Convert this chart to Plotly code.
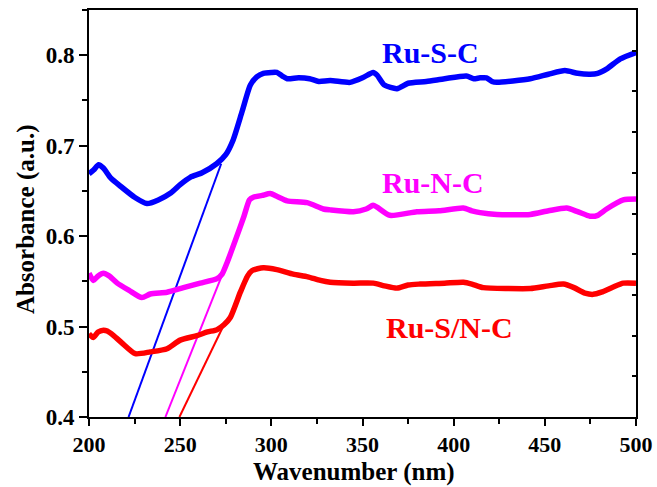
import plotly.graph_objects as go

# Ru-S-C (blue)
x_sc = [200, 202.5, 205.3, 208, 212, 218, 225, 231.8, 238, 245, 250, 255.5, 262, 270, 275, 279, 284, 288.5,
        292, 295.6, 300, 303, 306, 308.7, 315, 321, 326, 332.3, 343.2, 350, 355.8, 358, 362, 368.9, 375, 385,
        395, 407, 411, 414.5, 418, 421, 423.7, 442, 452, 461, 468, 474.8, 479, 484, 491.4, 500]
y_sc = [0.669, 0.673, 0.679, 0.675, 0.664, 0.654, 0.643, 0.636, 0.640, 0.648, 0.657, 0.665, 0.670, 0.680,
        0.690, 0.706, 0.738, 0.767, 0.776, 0.780, 0.781, 0.781, 0.777, 0.774, 0.775, 0.774, 0.771, 0.772,
        0.770, 0.775, 0.781, 0.778, 0.767, 0.763, 0.769, 0.771, 0.774, 0.777, 0.774, 0.775, 0.775, 0.771,
        0.770, 0.774, 0.779, 0.783, 0.780, 0.779, 0.780, 0.785, 0.796, 0.803]

# Ru-N-C (magenta)
x_nc = [200, 202.4, 205, 207.9, 211, 215.5, 222, 229, 233.6, 242.8, 251.8, 261, 270.2, 273, 275.6, 280.2,
        285, 288, 290.1, 295, 299.4, 303, 308.7, 319.6, 328.5, 332.3, 345, 352, 355.8, 358, 365, 379.8, 392,
        405.3, 410, 414.5, 423.7, 442, 452, 462, 468, 474.8, 479, 483.9, 493, 500]
y_nc = [0.559, 0.551, 0.556, 0.559, 0.556, 0.548, 0.540, 0.532, 0.536, 0.538, 0.543, 0.548, 0.553, 0.558,
        0.570, 0.595, 0.622, 0.640, 0.643, 0.645, 0.647, 0.644, 0.639, 0.637, 0.630, 0.629, 0.627, 0.630,
        0.634, 0.632, 0.623, 0.627, 0.628, 0.631, 0.628, 0.626, 0.624, 0.624, 0.628, 0.631, 0.627, 0.622,
        0.623, 0.630, 0.640, 0.641]

# Ru-S/N-C (red)
x_snc = [200, 202.4, 205, 207.9, 210, 213.5, 218, 225.4, 233.6, 242.8, 250, 259.2, 265, 270.2, 274, 277.5,
         283, 287, 289.5, 295.6, 303, 312, 320, 326.9, 332.3, 345, 356, 362, 368.9, 375, 381.6, 395, 405.4,
         410, 416.3, 430, 442, 452, 460.2, 466, 472, 476.5, 481, 487.5, 493, 500]
y_snc = [0.492, 0.488, 0.494, 0.496, 0.495, 0.490, 0.482, 0.470, 0.472, 0.4755, 0.485, 0.490, 0.494, 0.4966,
         0.502, 0.510, 0.538, 0.556, 0.562, 0.565, 0.563, 0.558, 0.555, 0.551, 0.549, 0.548, 0.548, 0.545,
         0.5425, 0.546, 0.547, 0.548, 0.549, 0.547, 0.543, 0.542, 0.542, 0.545, 0.547, 0.543, 0.537, 0.5356,
         0.538, 0.5437, 0.548, 0.548]

# Tangent (band-edge) lines
tan_sc_x = [221.7, 272.5]
tan_sc_y = [0.400, 0.680]
tan_nc_x = [241.9, 274.0]
tan_nc_y = [0.400, 0.562]
tan_snc_x = [249.6, 274.0]
tan_snc_y = [0.400, 0.502]

labels = ["Ru-S-C", "Ru-N-C", "Ru-S/N-C"]
label_x = [387.5, 388.5, 397.5]
label_y = [0.803, 0.659, 0.4986]

x_title = "Wavenumber (nm)"
y_title = "Absorbance (a.u.)"

BLUE, MAG, RED = "#0000FF", "#FF00FF", "#FF0000"
colors = [BLUE, MAG, RED]
FONT = "Liberation Serif, Times New Roman, serif"

fig = go.Figure()
for tx, ty, c in [(tan_sc_x, tan_sc_y, BLUE), (tan_nc_x, tan_nc_y, MAG), (tan_snc_x, tan_snc_y, RED)]:
    fig.add_trace(go.Scatter(x=tx, y=ty, mode="lines", line=dict(color=c, width=2), showlegend=False,
                             hoverinfo="skip"))
for xs, ys, c, n in [(x_sc, y_sc, BLUE, labels[0]), (x_nc, y_nc, MAG, labels[1]), (x_snc, y_snc, RED, labels[2])]:
    fig.add_trace(go.Scatter(x=xs, y=ys, mode="lines", name=n, line=dict(color=c, width=5.5, shape="spline",
                                                                          smoothing=0.6), showlegend=False))
# empty trace to activate right axis
fig.add_trace(go.Scatter(x=[None], y=[None], yaxis="y2", showlegend=False, hoverinfo="skip"))

for t, lx, ly, c in zip(labels, label_x, label_y, colors):
    fig.add_annotation(x=lx, y=ly, text=t, showarrow=False,
                       font=dict(family=FONT, size=30, color=c, weight="bold"))

# axis titles as annotations (positioned like the reference)
fig.add_annotation(xref="paper", yref="paper", x=0.4845, y=-0.135, xanchor="center", yanchor="middle",
                   text=x_title, showarrow=False, borderpad=0,
                   font=dict(family=FONT, size=25, color="black", weight="bold"))
fig.add_annotation(xref="paper", yref="paper", x=-0.115, y=0.4865, xanchor="center", yanchor="middle",
                   text=y_title, textangle=-90, showarrow=False, borderpad=0,
                   font=dict(family=FONT, size=25, color="black", weight="bold"))

fig.update_layout(
    width=657, height=487,
    margin=dict(l=89, r=21, t=10, b=70),
    plot_bgcolor="white", paper_bgcolor="white",
    font=dict(family=FONT, color="black"),
    xaxis=dict(range=[200, 500], dtick=50, tick0=200, ticks="outside", ticklen=7, tickwidth=2,
               tickcolor="black", showline=True, linewidth=2, linecolor="black", mirror=True,
               showgrid=False, zeroline=False, automargin=False,
               minor=dict(ticks="outside", ticklen=5, tickwidth=2, dtick=25, tick0=200, tickcolor="black"),
               tickfont=dict(family=FONT, size=22, color="black", weight="bold")),
    yaxis=dict(range=[0.4, 0.85], dtick=0.1, tick0=0.4, ticks="outside", ticklen=8, tickwidth=2,
               tickcolor="black", showline=True, linewidth=2, linecolor="black",
               showgrid=False, zeroline=False, tickformat=".1f", automargin=False,
               minor=dict(ticks="outside", ticklen=5, tickwidth=2, dtick=0.05, tick0=0.4, tickcolor="black"),
               tickfont=dict(family=FONT, size=23, color="black", weight="bold")),
    yaxis2=dict(overlaying="y", side="right", range=[0, 10], dtick=1, ticks="inside", ticklen=4,
                tickwidth=2, tickcolor="black", showticklabels=False, showline=True, linewidth=2,
                linecolor="black", showgrid=False, zeroline=False, automargin=False),
)

fig.write_html("out.html")
